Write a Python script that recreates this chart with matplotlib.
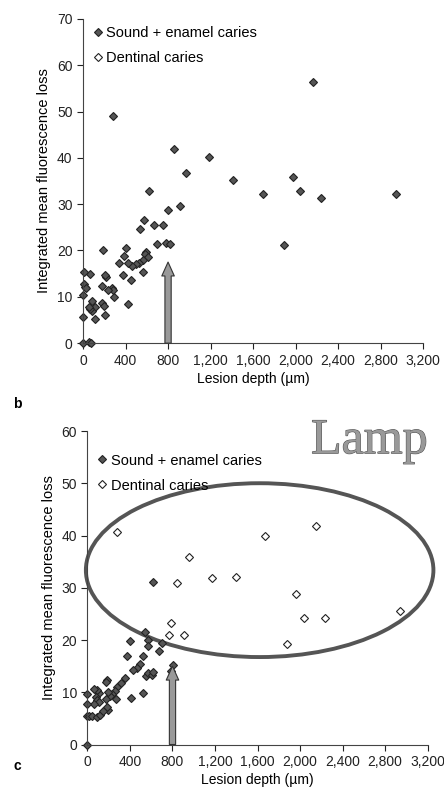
import matplotlib
matplotlib.use('Agg')
import matplotlib.pyplot as plt
import matplotlib.patheffects as pe
from matplotlib.patches import Ellipse
from matplotlib.ticker import FuncFormatter

plt.rcParams['font.family'] = ['Liberation Sans', 'DejaVu Sans']

# panel b: all points drawn as filled diamonds
depth_b = [285, 621, 853, 966, 1183, 1412, 1692, 1892, 1974, 2040, 2161, 2241, 2943,
           916, 803, 577, 533, 668, 750, 699, 778, 819,
           596, 587, 609, 567, 530, 561,
           496, 458, 427, 408, 389, 339, 380, 449, 427,
           289, 276, 285, 238, 216, 210, 185, 179, 182, 195, 207,
           110, 82, 66, 56, 113, 88, 66, 9, 22, 12, 28, 0, 0, 0, 55, 77]
loss_b = [49.1, 32.8, 42.0, 36.7, 40.1, 35.3, 32.3, 21.1, 35.8, 32.9, 56.4, 31.3, 32.3,
          29.7, 28.7, 26.6, 24.6, 25.6, 25.6, 21.4, 21.7, 21.3,
          19.7, 19.2, 18.6, 17.9, 17.2, 15.4,
          17.0, 16.7, 17.2, 20.6, 18.8, 17.3, 14.7, 13.6, 8.4,
          9.9, 11.8, 11.4, 11.4, 14.3, 14.7, 20.1, 12.3, 8.7, 8.0, 6.0,
          7.8, 7.0, 7.3, 7.8, 5.3, 9.1, 15.0, 15.4, 12.2, 12.7, 11.8, 10.4, 5.7, 0, 0.3, 0]

# panel c (lamp): sound + enamel caries
depth_c = [612, 697, 669, 804, 790, 800, 568, 574, 541, 402, 374, 527, 496, 465, 424,
           355, 317, 282, 258, 235, 214, 189, 176, 270, 408, 527, 550, 574, 606, 621,
           182, 176, 107, 88, 76, 88, 113, 60, 63, 0, 0, 0, 10, 41, 88, 120, 189, 182, 150, 0]
loss_c = [31.1, 19.4, 17.9, 15.3, 14.0, 13.0, 20.0, 18.8, 21.6, 19.9, 17.0, 17.0, 15.5, 14.6, 14.2,
          12.8, 11.7, 11.1, 10.2, 9.6, 9.2, 10.0, 8.7, 8.8, 9.0, 9.8, 13.2, 13.7, 13.4, 13.9,
          12.4, 12.0, 9.9, 10.4, 9.1, 8.5, 8.2, 10.7, 7.8, 9.6, 7.7, 5.5, 5.5, 5.4, 5.2, 5.6, 6.7, 7.2, 6.4, 0]

# panel c: dentinal caries
dent_depth_c = [282, 847, 954, 1174, 1393, 1675, 2146, 1958, 2040, 2237, 2944, 1877, 788, 769, 904]
dent_loss_c = [40.7, 30.9, 36.0, 31.8, 32.0, 40.0, 41.9, 28.9, 24.3, 24.3, 25.6, 19.3, 23.2, 20.9, 20.9]

xticks = [0, 400, 800, 1200, 1600, 2000, 2400, 2800, 3200]


def style(ax, ymax):
    ax.set_xlim(0, 3200)
    ax.set_ylim(0, ymax)
    ax.set_xticks(xticks)
    ax.set_yticks(range(0, ymax + 1, 10))
    ax.xaxis.set_major_formatter(FuncFormatter(lambda v, p: f'{int(v):,}'))
    ax.spines['top'].set_visible(False)
    ax.spines['right'].set_visible(False)
    ax.spines['left'].set_color('#444')
    ax.spines['bottom'].set_color('#444')
    ax.tick_params(direction='out', length=4, labelsize=10, colors='#222')
    ax.set_xlabel('Lesion depth (µm)', fontsize=10, labelpad=3)
    ax.set_ylabel('Integrated mean fluorescence loss', fontsize=10.5, labelpad=4)


def arrow(ax, top):
    ax.annotate('', xy=(800, top), xytext=(800, 0),
                arrowprops=dict(arrowstyle='simple,head_width=0.9,head_length=1.0,tail_width=0.45',
                                fc='#999', ec='#333', lw=0.8, shrinkA=0, shrinkB=0))


fig = plt.figure(figsize=(4.44, 7.87), dpi=100)

# panel b
ax1 = fig.add_axes([0.187, 0.564, 0.766, 0.412])
ax1.plot(depth_b, loss_b, 'D', ms=4, mfc='#555', mec='#222', mew=0.8, clip_on=False,
         label='Sound + enamel caries')
ax1.plot([], [], 'D', ms=4, mfc='white', mec='#222', mew=0.8, label='Dentinal caries')
arrow(ax1, 17.5)
style(ax1, 70)
ax1.legend(loc='upper left', frameon=False, fontsize=10.5, handletextpad=0.1,
           handlelength=1, borderaxespad=0.1, labelspacing=0.75)
fig.text(0.03, 0.481, 'b', fontsize=10, fontweight='bold')

# panel c
ax2 = fig.add_axes([0.197, 0.054, 0.766, 0.398])
ax2.plot(depth_c, loss_c, 'D', ms=4, mfc='#555', mec='#222', mew=0.8, clip_on=False,
         label='Sound + enamel caries')
ax2.plot(dent_depth_c, dent_loss_c, 'D', ms=4, mfc='white', mec='#222', mew=0.8,
         label='Dentinal caries')
arrow(ax2, 15)
style(ax2, 60)
ax2.legend(loc='upper left', bbox_to_anchor=(0, 0.952), frameon=False, fontsize=10.5,
           handletextpad=0.1, handlelength=1, borderaxespad=0.1, labelspacing=0.75)
ax2.add_patch(Ellipse((1620, 33.4), 3270, 33.3, fill=False, ec='#555', lw=2.8, clip_on=False))
ax2.text(3200, 62.6, 'Lamp', family='Liberation Serif', fontsize=36, color='#999',
         ha='right', va='top', clip_on=False,
         path_effects=[pe.Stroke(linewidth=0.8, foreground='#555'), pe.Normal()])
fig.text(0.03, 0.022, 'c', fontsize=10, fontweight='bold')

fig.savefig('out.png', dpi=100)
